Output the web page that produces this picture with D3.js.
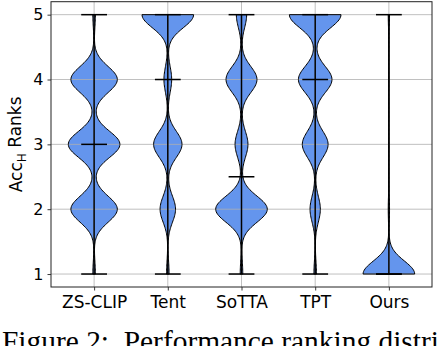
<!DOCTYPE html>
<html lang="en">
<head>
<meta charset="UTF-8">
<title>Acc_H rank violins</title>
<style>
  body { margin: 0; background: #fff; }
  svg  { display: block; font-family: "DejaVu Sans", sans-serif; }
  .grid line  { stroke: #b0b0b0; stroke-width: 0.8; }
  .vfill { fill: #6495ed; stroke: none; }
  .vedge { fill: none; stroke: #000; stroke-width: 1; }
  .vline { stroke: #000; stroke-width: 1.5; }
  .axis path { display: none; }
  .axis line { stroke: #222; stroke-width: 0.9; }
  .axis text { fill: #000; font-family: "DejaVu Sans", sans-serif; }
</style>
</head>
<body>
<svg id="chart" width="444" height="346"></svg>
<script src="https://d3js.org/d3.v7.min.js"></script>
<script>
// ---- data: how many times each method got rank 1..5 ----
const methods = ['ZS-CLIP', 'Tent', 'SoTTA', 'TPT', 'Ours'];
const ranks   = [1, 2, 3, 4, 5];
const countsZSCLIP = [1, 18, 20, 18, 1];
const countsTent   = [1, 6, 11, 3, 20];
const countsSoTTA  = [1, 20, 5, 12, 4];
const countsTPT    = [1, 4, 10, 13, 20];
const countsOurs   = [40, 1, 0, 0, 1];
const yTicks = [1, 2, 3, 4, 5];

const allCounts = [countsZSCLIP, countsTent, countsSoTTA, countsTPT, countsOurs];

// ---- layout ----
const svg = d3.select('#chart');
const plotL = 51, plotR = 432, plotT = 1.7, plotB = 287;
const violinWidth = 0.7;     // in position units, like matplotlib widths=
const bandwidth = 0.2;       // gaussian kernel sigma, rank units

const x = d3.scaleLinear().domain([0.415, 5.585]).range([plotL, plotR]);
const y = d3.scaleLinear().domain([0.8, 5.2]).range([plotB, plotT]);

// expand counts to raw rank lists
const samples = allCounts.map(c => ranks.flatMap((r, i) => d3.range(c[i]).map(() => r)));

function kde(vals) {
  const lo = d3.min(vals), hi = d3.max(vals);
  const pts = d3.range(0, 201).map(i => lo + (hi - lo) * i / 200);
  const dens = pts.map(v => d3.sum(vals, s => Math.exp(-((v - s) ** 2) / (2 * bandwidth * bandwidth))));
  const m = d3.max(dens);
  return pts.map((v, i) => ({ v, w: dens[i] / m * violinWidth / 2 }));
}

const gFill = svg.append('g');
const gGrid = svg.append('g').attr('class', 'grid');
const gEdge = svg.append('g');
const gLine = svg.append('g');

samples.forEach((vals, i) => {
  const pos = i + 1;
  const prof = kde(vals);
  const area = d3.area()
    .x0(d => x(pos - d.w))
    .x1(d => x(pos + d.w))
    .y(d => y(d.v));
  gFill.append('path').attr('class', 'vfill').attr('d', area(prof));
  // outline: right side up, left side down
  const outline = d3.line().x(d => x(d.x)).y(d => y(d.v));
  const ring = prof.map(d => ({ x: pos + d.w, v: d.v }))
    .concat(prof.slice().reverse().map(d => ({ x: pos - d.w, v: d.v })));
  gEdge.append('path').attr('class', 'vedge').attr('d', outline(ring) + 'Z');

  const lo = d3.min(vals), hi = d3.max(vals), med = d3.median(vals);
  const cap = violinWidth / 4;
  gLine.append('line').attr('class', 'vline')
    .attr('x1', x(pos)).attr('x2', x(pos)).attr('y1', y(lo)).attr('y2', y(hi));
  [lo, hi, med].forEach(v => {
    gLine.append('line').attr('class', 'vline')
      .attr('x1', x(pos - cap)).attr('x2', x(pos + cap))
      .attr('y1', y(v)).attr('y2', y(v));
  });
});

// grid
gGrid.selectAll('line.h').data(yTicks).enter().append('line')
  .attr('x1', plotL).attr('x2', plotR).attr('y1', d => y(d)).attr('y2', d => y(d));
gGrid.selectAll('line.v').data(methods).enter().append('line')
  .attr('x1', (d, i) => x(i + 1)).attr('x2', (d, i) => x(i + 1)).attr('y1', plotT).attr('y2', plotB);

// axes
svg.append('g').attr('class', 'axis')
  .attr('transform', `translate(${plotL},0)`)
  .call(d3.axisLeft(y).tickValues(yTicks).tickSize(3.5).tickPadding(4).tickFormat(d3.format('d')))
  .selectAll('text').style('font-size', '16px');

svg.append('g').attr('class', 'axis')
  .attr('transform', `translate(0,${plotB})`)
  .call(d3.axisBottom(x).tickValues([1, 2, 3, 4, 5]).tickSize(3.5).tickPadding(5.5).tickFormat((d, i) => methods[i]))
  .selectAll('text').style('font-size', '17px');

// frame
svg.append('rect')
  .attr('x', plotL).attr('y', plotT).attr('width', plotR - plotL).attr('height', plotB - plotT)
  .attr('fill', 'none').attr('stroke', '#222').attr('stroke-width', 1);

// y label
const yl = svg.append('text')
  .attr('transform', `translate(22,${(plotT + plotB) / 2}) rotate(-90)`)
  .attr('text-anchor', 'middle')
  .style('font-size', '17px');
yl.append('tspan').text('Acc');
yl.append('tspan').attr('dy', '0.3em').style('font-size', '12px').text('H');
yl.append('tspan').attr('dy', '-0.3em').text(' Ranks');

// caption, only its top shows at the bottom edge like in the source
const cap = svg.append('text')
  .attr('x', 2).attr('y', 351)
  .style('font-family', '"Liberation Serif", serif')
  .style('font-size', '29px')
  .attr('xml:space', 'preserve')
  .text('Figure 2:  Performance ranking distri');
const capLen = cap.node().getComputedTextLength();
cap.style('font-size', (29 * 437 / capLen).toFixed(2) + 'px');
</script>
</body>
</html>
